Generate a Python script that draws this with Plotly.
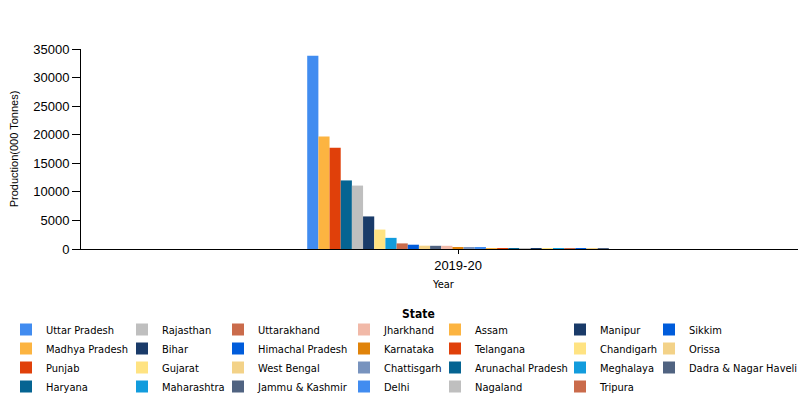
import plotly.graph_objects as go

years = ["2019-20"]

states = [
    "Uttar Pradesh", "Madhya Pradesh", "Punjab", "Haryana",
    "Rajasthan", "Bihar", "Gujarat", "Maharashtra",
    "Uttarakhand", "Himachal Pradesh", "West Bengal", "Jammu & Kashmir",
    "Jharkhand", "Karnataka", "Chattisgarh", "Delhi",
    "Assam", "Telangana", "Arunachal Pradesh", "Nagaland",
    "Manipur", "Chandigarh", "Meghalaya", "Tripura",
    "Sikkim", "Orissa", "Dadra & Nagar Haveli",
]

production = [
    33800, 19700, 17700, 12000,
    11100, 5700, 3400, 1950,
    980, 750, 580, 560,
    560, 200, 190, 180,
    170, 170, 160, 160,
    160, 160, 160, 160,
    160, 160, 160,
]

palette = [
    "#418CF0", "#FCB441", "#E0400A", "#056492", "#BFBFBF", "#1A3B69",
    "#FFE382", "#129CDD", "#CA6B4B", "#005CDB", "#F3D288", "#506381",
    "#F1B9A8", "#E0830A", "#7893BE",
]

# the page body has an 8px margin; the figure is sized to fill the rest of the window
OFF = 8
W, H = 806 - OFF, 399 - OFF
ml, mr, mt, mb = 81 - OFF, 0, 49 - OFF, 150
pw = W - ml - mr
ph = H - mt - mb

# legend column text start positions (window px)
legend_cols_px = [46, 162, 258, 384, 475, 600, 689]
legend_top_px = 315
title_px = (418, 314)

fig = go.Figure()
for i, (name, val) in enumerate(zip(states, production)):
    col = i // 4
    fig.add_trace(go.Bar(
        x=years, y=[val], name=name,
        marker=dict(color=palette[i % len(palette)], line=dict(width=0)),
        legend="legend" if col == 0 else f"legend{col + 1}",
        hovertemplate="%{fullData.name}: %{y}<extra></extra>",
    ))

legend_font = dict(family="DejaVu Sans Condensed, DejaVu Sans, sans-serif", size=11, color="#000000")
layout_legends = {}
for c, px in enumerate(legend_cols_px):
    key = "legend" if c == 0 else f"legend{c + 1}"
    layout_legends[key] = dict(
        x=(px - OFF - 40 - ml) / pw, xanchor="left",
        y=(mt + ph - (legend_top_px - OFF)) / ph, yanchor="top",
        orientation="v", font=legend_font,
        bgcolor="rgba(0,0,0,0)", tracegroupgap=0,
        itemclick=False, itemdoubleclick=False,
    )

fig.update_layout(
    width=W, height=H,
    margin=dict(l=ml, r=mr, t=mt, b=mb, autoexpand=False),
    paper_bgcolor="white", plot_bgcolor="white",
    barmode="group", bargap=0.6, bargroupgap=0,
    showlegend=True,
    font=dict(family="Liberation Sans, Arial, sans-serif", size=13, color="#000000"),
    xaxis=dict(
        type="category", range=[-0.5, 0.4615],
        showline=True, linecolor="#000000", linewidth=1,
        ticks="outside", ticklen=4, tickcolor="#000000",
        showgrid=False, zeroline=False,
        tickfont=dict(size=13),
        title=dict(text="Year", font=dict(family="DejaVu Sans Condensed, DejaVu Sans, sans-serif", size=11), standoff=8),
    ),
    yaxis=dict(
        range=[0, 35000], dtick=5000, tickformat="d",
        showline=True, linecolor="#000000", linewidth=1,
        ticks="outside", ticklen=8, tickcolor="#000000",
        showgrid=False, zeroline=False,
        tickfont=dict(size=13),
        title=dict(text="Production(000 Tonnes)", font=dict(family="Liberation Sans, Arial, sans-serif", size=11), standoff=20),
    ),
    annotations=[dict(
        text="<b>State</b>", xref="paper", yref="paper",
        x=(title_px[0] - OFF - ml) / pw, y=(mt + ph - (title_px[1] - OFF)) / ph,
        xanchor="center", yanchor="middle", showarrow=False,
        font=dict(family="DejaVu Sans Condensed, DejaVu Sans, sans-serif", size=12, color="#000000"),
    )],
    **layout_legends,
)

fig.write_html("out.html")
